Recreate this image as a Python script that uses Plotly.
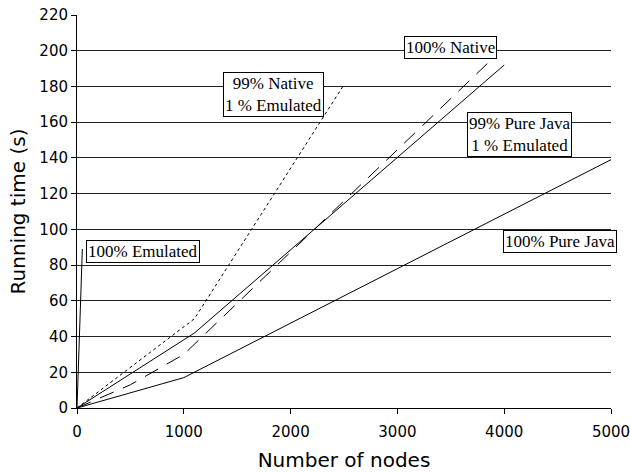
import plotly.graph_objects as go

# Data
emul_x = [0, 50]
emul_y = [0, 89]

native99_x = [0, 1100, 2500]
native99_y = [0, 50, 181]

purejava99_x = [0, 1100, 4000]
purejava99_y = [0, 42, 192]

native100_x = [0, 500, 1000, 3880]
native100_y = [0, 13, 30, 195]

purejava100_x = [0, 1000, 5000]
purejava100_y = [0, 17, 139]

labels = [
    ("100% Emulated", 621, 87.7),
    ("99% Native<br>1 % Emulated", 1838, 175.5),
    ("100% Native", 3495, 202),
    ("99% Pure Java<br>1 % Emulated", 4146, 153),
    ("100% Pure Java", 4526, 93.3),
]

fig = go.Figure()
line = dict(color="black", width=1)
fig.add_trace(go.Scatter(x=emul_x, y=emul_y, mode="lines", line=line))
fig.add_trace(go.Scatter(x=native99_x, y=native99_y, mode="lines",
                         line=dict(color="black", width=1, dash="dot")))
fig.add_trace(go.Scatter(x=purejava99_x, y=purejava99_y, mode="lines", line=line))
fig.add_trace(go.Scatter(x=native100_x, y=native100_y, mode="lines",
                         line=dict(color="black", width=1, dash="15px,10px")))
fig.add_trace(go.Scatter(x=purejava100_x, y=purejava100_y, mode="lines", line=line))

for text, x, y in labels:
    fig.add_annotation(x=x, y=y, text=text, showarrow=False,
                       font=dict(family="Liberation Serif", size=17, color="black"),
                       bgcolor="white", bordercolor="black", borderwidth=1, borderpad=1)

axis_font = dict(family="DejaVu Sans", size=15, color="black")
fig.update_layout(
    width=630, height=472,
    margin=dict(l=77, r=19, t=15, b=64, autoexpand=False),
    plot_bgcolor="white", paper_bgcolor="white",
    showlegend=False,
    xaxis=dict(range=[0, 5000], tickvals=[0, 1000, 2000, 3000, 4000, 5000],
               showgrid=False, zeroline=False, showline=True, linecolor="black",
               linewidth=1, ticks="outside", ticklen=5, tickcolor="black",
               tickfont=axis_font, ticklabeloverflow="allow", ticklabelstandoff=5,
               automargin=False,
               title=dict(text="Number of nodes",
                          font=dict(family="DejaVu Sans", size=20, color="black"),
                          standoff=12)),
    yaxis=dict(range=[0, 220], tickvals=list(range(0, 221, 20)),
               showgrid=True, gridcolor="#222", gridwidth=1, zeroline=False,
               showline=True, linecolor="black", linewidth=1,
               ticks="outside", ticklen=5, tickcolor="black",
               tickfont=axis_font, ticklabeloverflow="allow", automargin=False,
               title=dict(text="Running time (s)",
                          font=dict(family="DejaVu Sans", size=20, color="black"),
                          standoff=8)),
)

fig.write_html("out.html")
